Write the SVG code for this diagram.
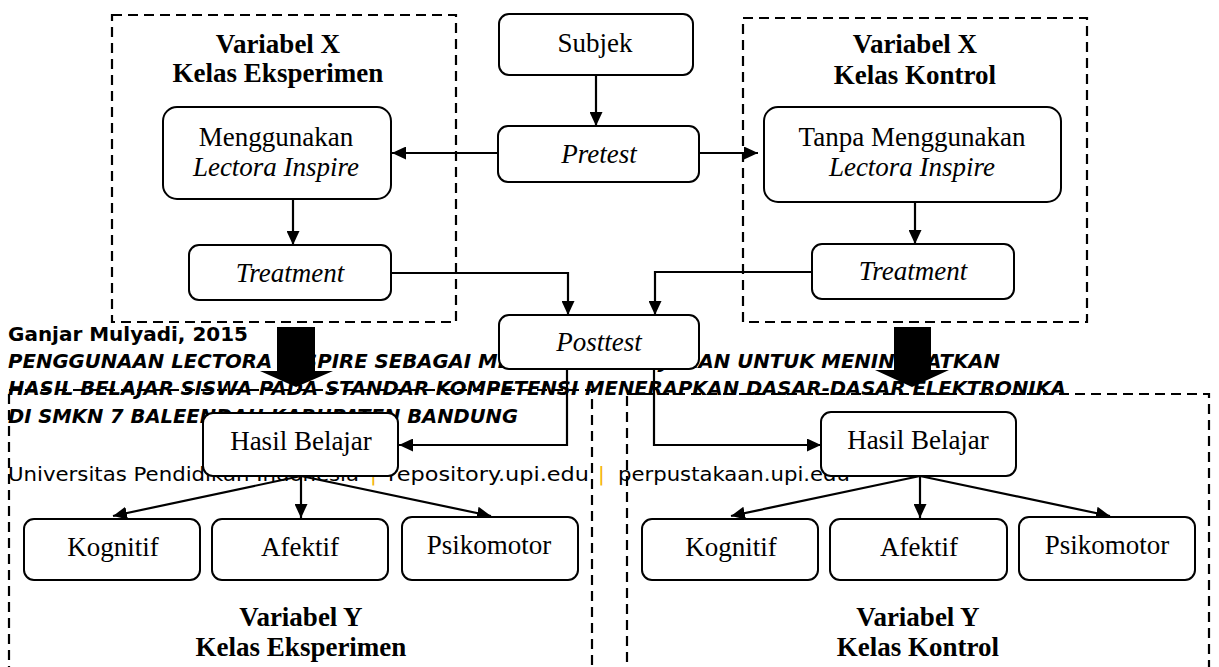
<svg xmlns="http://www.w3.org/2000/svg" width="1219" height="667" viewBox="0 0 1219 667">
<defs>
<style>
.box{fill:#fff;stroke:#000;stroke-width:2}
.dash{fill:none;stroke:#000;stroke-width:2.2;stroke-dasharray:10 6}
.t{font-family:"Liberation Serif","Times New Roman",serif;font-size:27px;text-anchor:middle;fill:#000}
.i{font-style:italic}
.b{font-weight:bold}
.conn{fill:none;stroke:#000;stroke-width:2.2;marker-end:url(#ah)}
.ft{font-family:"DejaVu Sans",sans-serif;font-size:20px;fill:#000}
.fb{font-weight:bold}
.fi{font-style:italic}
.bar{fill:#F5B400}
</style>
<marker id="ah" markerWidth="14" markerHeight="13" refX="14" refY="6.5" orient="auto" markerUnits="userSpaceOnUse">
<path d="M0,0 L14,6.5 L0,13 z" fill="#000"/>
</marker>
</defs>
<rect width="1219" height="667" fill="#fff"/>

<g id="footer">
<text class="ft fb" x="8" y="341" textLength="240" lengthAdjust="spacingAndGlyphs">Ganjar Mulyadi, 2015</text>
<text class="ft fb fi" x="8" y="368" textLength="992" lengthAdjust="spacingAndGlyphs">PENGGUNAAN LECTORA INSPIRE SEBAGAI MEDIA PEMBELAJARAN UNTUK MENINGKATKAN</text>
<text class="ft fb fi" x="8" y="395" textLength="1058" lengthAdjust="spacingAndGlyphs">HASIL BELAJAR SISWA PADA STANDAR KOMPETENSI MENERAPKAN DASAR-DASAR ELEKTRONIKA</text>
<text class="ft fb fi" x="8" y="423" textLength="510" lengthAdjust="spacingAndGlyphs">DI SMKN 7 BALEENDAH KABUPATEN BANDUNG</text>
<text class="ft" x="8" y="481" textLength="351" lengthAdjust="spacingAndGlyphs">Universitas Pendidikan Indonesia</text>
<text class="ft bar" x="370" y="481">|</text>
<text class="ft" x="388" y="481" textLength="201" lengthAdjust="spacingAndGlyphs">repository.upi.edu</text>
<text class="ft bar" x="598" y="481">|</text>
<text class="ft" x="618" y="481" textLength="232" lengthAdjust="spacingAndGlyphs">perpustakaan.upi.edu</text>
</g>

<g id="group-x-eksperimen">
<rect class="dash" x="112" y="15" width="344" height="307"/>
<text class="t b" x="278" y="53">Variabel X</text>
<text class="t b" x="278" y="82">Kelas Eksperimen</text>
</g>
<g id="group-x-kontrol">
<rect class="dash" x="743" y="18" width="344" height="304"/>
<text class="t b" x="915" y="53">Variabel X</text>
<text class="t b" x="915" y="84">Kelas Kontrol</text>
</g>
<g id="group-y-eksperimen">
<rect class="dash" x="9" y="390" width="583" height="320"/>
<text class="t b" x="301" y="626">Variabel Y</text>
<text class="t b" x="301" y="656">Kelas Eksperimen</text>
</g>
<g id="group-y-kontrol">
<rect class="dash" x="627" y="394" width="582" height="320"/>
<text class="t b" x="918" y="626">Variabel Y</text>
<text class="t b" x="918" y="656">Kelas Kontrol</text>
</g>

<g id="connectors">
<path class="conn" d="M596,75 L596,126"/>
<path class="conn" d="M498,153 L392,153"/>
<path class="conn" d="M699,153 L758,153"/>
<path class="conn" d="M293,199 L293,245"/>
<path class="conn" d="M915,202 L915,244"/>
<path class="conn" d="M391,273 L568,273 L568,315"/>
<path class="conn" d="M812,272 L655,272 L655,315"/>
<path class="conn" d="M567,369 L567,445 L399,445"/>
<path class="conn" d="M654,369 L654,445 L821,445"/>
<path class="conn" d="M301,476 L113,516"/>
<path class="conn" d="M301,476 L301,518"/>
<path class="conn" d="M301,476 L491,516"/>
<path class="conn" d="M920,476 L731,516"/>
<path class="conn" d="M920,476 L920,518"/>
<path class="conn" d="M920,476 L1110,516"/>
<polygon points="277,327 315,327 315,371 333,371 296,387 260,371 277,371" fill="#000"/>
<polygon points="894,327 931,327 931,370 949,370 912,387 875,370 894,370" fill="#000"/>
</g>

<g id="subjek"><rect class="box" x="499" y="14" width="194" height="61" rx="10"/><text class="t" x="595" y="52">Subjek</text></g>
<g id="pretest"><rect class="box" x="498" y="126" width="201" height="56" rx="10"/><text class="t i" x="599" y="163">Pretest</text></g>
<g id="menggunakan"><rect class="box" x="163" y="107" width="228" height="92" rx="14"/><text class="t" x="276" y="146">Menggunakan</text><text class="t i" x="276" y="176">Lectora Inspire</text></g>
<g id="tanpa"><rect class="box" x="764" y="107" width="297" height="95" rx="14"/><text class="t" x="912" y="146">Tanpa Menggunakan</text><text class="t i" x="912" y="176">Lectora Inspire</text></g>
<g id="treatment-l"><rect class="box" x="189" y="245" width="202" height="55" rx="10"/><text class="t i" x="290" y="282">Treatment</text></g>
<g id="treatment-r"><rect class="box" x="812" y="244" width="202" height="55" rx="10"/><text class="t i" x="913" y="280">Treatment</text></g>
<g id="posttest"><rect class="box" x="499" y="315" width="200" height="54" rx="10"/><text class="t i" x="599" y="351">Posttest</text></g>
<g id="hasil-l"><rect class="box" x="203" y="413" width="195" height="63" rx="10"/><text class="t" x="301" y="450">Hasil Belajar</text></g>
<g id="hasil-r"><rect class="box" x="821" y="412" width="195" height="64" rx="10"/><text class="t" x="918" y="449">Hasil Belajar</text></g>
<g id="kognitif-l"><rect class="box" x="24" y="519" width="176" height="61" rx="10"/><text class="t" x="113" y="556">Kognitif</text></g>
<g id="afektif-l"><rect class="box" x="212" y="519" width="176" height="61" rx="10"/><text class="t" x="300" y="556">Afektif</text></g>
<g id="psikomotor-l"><rect class="box" x="402" y="517" width="176" height="63" rx="10"/><text class="t" x="489" y="554">Psikomotor</text></g>
<g id="kognitif-r"><rect class="box" x="642" y="519" width="176" height="61" rx="10"/><text class="t" x="731" y="556">Kognitif</text></g>
<g id="afektif-r"><rect class="box" x="830" y="519" width="177" height="61" rx="10"/><text class="t" x="919" y="556">Afektif</text></g>
<g id="psikomotor-r"><rect class="box" x="1019" y="517" width="176" height="63" rx="10"/><text class="t" x="1107" y="554">Psikomotor</text></g>
</svg>
